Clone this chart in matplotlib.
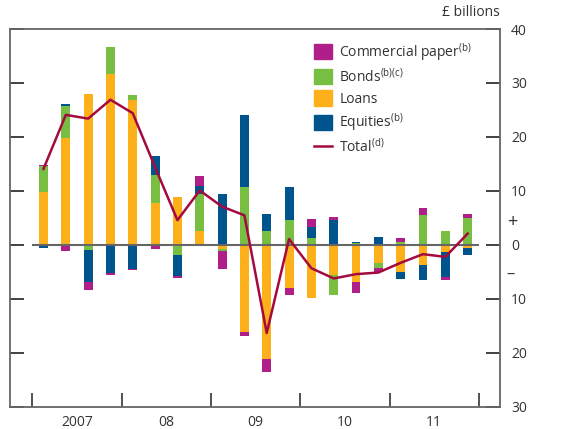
import numpy as np
import matplotlib
matplotlib.use('Agg')
import matplotlib.pyplot as plt
from matplotlib.patches import Patch
from matplotlib.lines import Line2D

plt.rcParams['font.family'] = ['Open Sans', 'DejaVu Sans']
plt.rcParams['mathtext.fontset'] = 'custom'
plt.rcParams['mathtext.rm'] = 'Open Sans'
plt.rcParams['mathtext.it'] = 'Open Sans'

# quarterly net finance raised, 2007 Q1 .. 2011 Q4 (GBP billions)
years = ['2007', '08', '09', '10', '11']
loans = [9.9, 19.75, 28.0, 31.7, 26.9, 7.7, 8.8, 2.6, -0.7, -16.1,
         -21.2, -7.9, -9.9, -5.6, -6.8, -3.3, -5.0, -3.7, -1.3, -0.55]
bonds = [4.7, 6.05, -0.9, 4.9, 0.9, 5.2, -1.8, 6.8, -0.5, 10.7,
         2.6, 4.6, 1.3, -3.6, 0.3, -0.9, 0.55, 5.5, 2.6, 5.0]
equities = [-0.55, 0.3, -5.9, -5.2, -4.4, 3.5, -3.9, 1.6, 9.4, 13.4,
            3.1, 6.1, 2.0, 4.7, 0.25, 1.5, -1.3, -2.7, -4.6, -1.25]
cpaper = [0.3, -1.2, -1.6, -0.3, -0.15, -0.7, -0.4, 1.7, -3.3, -0.8,
          -2.3, -1.3, 1.5, 0.5, -2.0, -0.8, 0.75, 1.3, -0.5, 0.7]
total = [14.1, 24.1, 23.4, 26.9, 24.4, 14.4, 4.6, 10.1, 7.1, 5.5,
         -16.3, 1.1, -4.3, -6.2, -5.4, -5.1, -3.3, -1.7, -2.2, 2.1]

c_cp = '#B01E8A'
c_bonds = '#78BE43'
c_loans = '#FDB01A'
c_eq = '#00548E'
c_tot = '#A50A3F'
grey = '#666666'

n = len(total)
x = np.arange(n)

fig = plt.figure(figsize=(5.68, 4.29), dpi=100)
ax = fig.add_axes([0.0176, 0.0513, 0.8627, 0.8811])

# stack from zero outward: loans, bonds, equities, commercial paper
pos = np.zeros(n)
neg = np.zeros(n)
for vals, col in [(loans, c_loans), (bonds, c_bonds), (equities, c_eq), (cpaper, c_cp)]:
    v = np.array(vals)
    base = np.where(v >= 0, pos, neg)
    ax.bar(x, v, 0.4, bottom=base, color=col, linewidth=0, zorder=2)
    pos = pos + np.clip(v, 0, None)
    neg = neg + np.clip(v, None, 0)

ax.hlines(0, -0.5, n - 0.5, color=grey, lw=1.5, zorder=3)
ax.plot(x, total, color=c_tot, lw=1.8, zorder=4)

ax.set_xlim(-1.5, 20.45)
ax.set_ylim(-30, 40)

for s in ax.spines.values():
    s.set_color(grey)
    s.set_linewidth(1.3)

# year boundaries as ticks, year names centred between them
ax.set_xticks(np.arange(-0.5, n, 4))
ax.set_xticklabels([])
ax.set_xticks(np.arange(1.5, n, 4), minor=True)
ax.set_xticklabels(years, minor=True, fontsize=10, color='#333333')
ax.tick_params(axis='x', which='major', direction='in', length=10, width=1.2, color='#333333')
ax.tick_params(axis='x', which='minor', length=0, pad=6)

yt = np.arange(-30, 41, 10)
ax.set_yticks(yt)
ax.set_yticklabels([str(abs(v)) for v in yt], fontsize=10, color='#333333')
ax.yaxis.tick_right()
ax.tick_params(axis='y', which='both', direction='in', length=10, width=1.2,
               color='#222222', left=True, right=True, labelleft=False,
               labelright=True, pad=8)

# sign markers beside the zero label
ax.text(1.025, 0.49, '+', transform=ax.transAxes, fontsize=13, color='#333333',
        ha='center', va='center')
ax.text(1.021, 0.35, '\u2013', transform=ax.transAxes, fontsize=12, color='#333333',
        ha='center', va='center')
ax.text(1.0, 1.025, '\u00a3 billions', transform=ax.transAxes, fontsize=10,
        color='#333333', ha='right', va='bottom')

handles = [Patch(color=c_cp), Patch(color=c_bonds), Patch(color=c_loans),
           Patch(color=c_eq), Line2D([], [], color=c_tot, lw=1.8)]
labels = [r'Commercial paper$^{\rm (b)}$', r'Bonds$^{\rm (b)(c)}$', 'Loans',
          r'Equities$^{\rm (b)}$', r'Total$^{\rm (d)}$']
leg = ax.legend(handles, labels, loc='upper left', bbox_to_anchor=(0.6, 0.995),
                frameon=False, fontsize=10, handlelength=1.35, handleheight=1.35,
                handletextpad=0.5, labelspacing=0.35, borderaxespad=0.3)
for t in leg.get_texts():
    t.set_color('#333333')

fig.savefig('out.png', dpi=100)
